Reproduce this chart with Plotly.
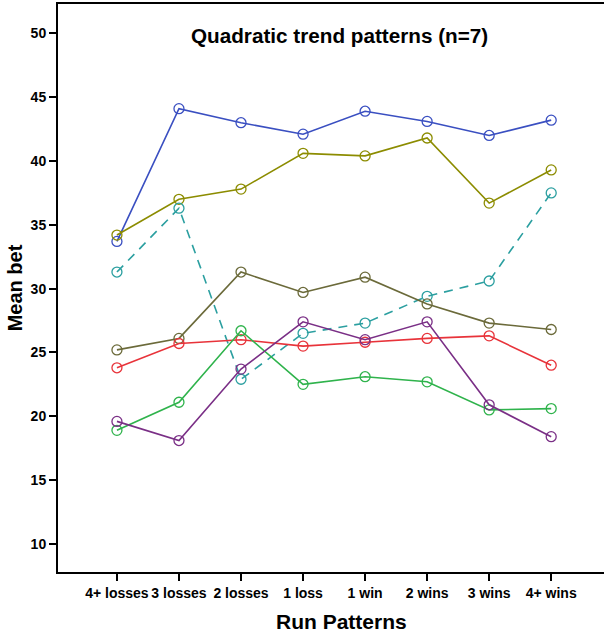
import plotly.graph_objects as go

categories = ["4+ losses", "3 losses", "2 losses", "1 loss", "1 win", "2 wins", "3 wins", "4+ wins"]

blue = [33.7, 44.1, 43.0, 42.1, 43.9, 43.1, 42.0, 43.2]
olive = [34.2, 37.0, 37.8, 40.6, 40.4, 41.8, 36.7, 39.3]
teal = [31.3, 36.3, 22.9, 26.5, 27.3, 29.4, 30.6, 37.5]
dark_olive = [25.2, 26.1, 31.3, 29.7, 30.9, 28.8, 27.3, 26.8]
red = [23.8, 25.7, 26.0, 25.5, 25.8, 26.1, 26.3, 24.0]
green = [18.9, 21.1, 26.7, 22.5, 23.1, 22.7, 20.5, 20.6]
purple = [19.6, 18.1, 23.7, 27.4, 26.0, 27.4, 20.9, 18.4]

y_ticks = [10, 15, 20, 25, 30, 35, 40, 45, 50]

series = [
    (blue, "#3a4fc1", "solid"),
    (olive, "#8c8c00", "solid"),
    (teal, "#2b9fa0", "dash"),
    (dark_olive, "#6b6a3a", "solid"),
    (red, "#e8333a", "solid"),
    (green, "#2fb34c", "solid"),
    (purple, "#7a2f86", "solid"),
]

fig = go.Figure()
for vals, color, dash in series:
    fig.add_trace(go.Scatter(
        x=list(range(len(categories))), y=vals, mode="lines+markers",
        line=dict(color=color, width=1.6, dash="9px,7px" if dash == "dash" else "solid"),
        marker=dict(symbol="circle-open", size=10, color=color, line=dict(width=1.3)),
        showlegend=False,
    ))

# plot area runs a little past the window on the right, like the original crop
fig.add_annotation(
    text="Quadratic trend patterns (n=7)", x=0.509, y=0.944, xref="paper", yref="paper",
    xanchor="center", yanchor="middle", showarrow=False,
    font=dict(family="Liberation Sans", size=20.7, color="black", weight="bold"),
)
fig.add_annotation(
    text="Run Patterns", x=0.5126, y=-0.0863, xref="paper", yref="paper",
    xanchor="center", yanchor="middle", showarrow=False,
    font=dict(family="Liberation Sans", size=21, color="black", weight="bold"),
)

fig.update_layout(
    width=612, height=632,
    margin=dict(l=58, r=0, t=4, b=60),
    plot_bgcolor="white", paper_bgcolor="white",
    font=dict(family="Liberation Sans", color="black"),
)
fig.update_xaxes(
    range=[-0.95, 7.98], tickmode="array", tickvals=list(range(len(categories))),
    ticktext=categories, showgrid=False, zeroline=False, automargin=False,
    showline=True, linecolor="black", linewidth=2, mirror=True,
    ticks="outside", ticklen=7, tickwidth=1.5, tickcolor="black",
    tickfont=dict(size=14, weight="bold"),
)
fig.update_yaxes(
    range=[7.8, 52.3], tickmode="array", tickvals=y_ticks, showgrid=False, zeroline=False,
    automargin=False,
    showline=True, linecolor="black", linewidth=2, mirror=False,
    ticks="outside", ticklen=7, tickwidth=1.5, tickcolor="black",
    tickfont=dict(size=14, weight="bold"),
    title=dict(text="Mean bet", font=dict(size=20, weight="bold"), standoff=3),
)

fig.write_html("out.html", config={"displayModeBar": False},
               post_script="document.body.style.margin='0';document.body.style.overflow='hidden';")
